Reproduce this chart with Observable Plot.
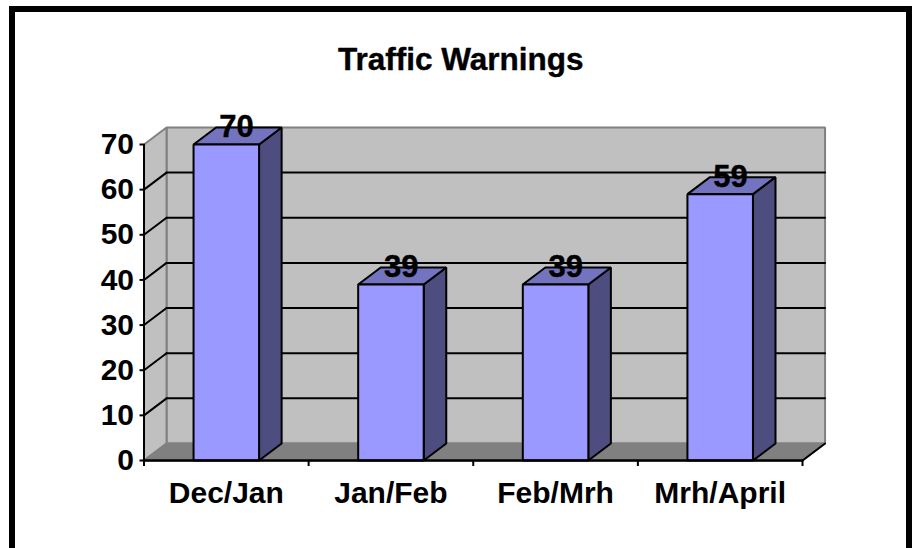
<!DOCTYPE html>
<html><head><meta charset="utf-8">
<script src="https://cdn.jsdelivr.net/npm/d3@7"></script>
<script src="https://cdn.jsdelivr.net/npm/@observablehq/plot@0.6"></script>
<style>
html,body{margin:0;padding:0;background:#fff;overflow:hidden;width:918px;height:548px}
#chart{position:absolute;left:0;top:0}
#chart svg{display:block;background:transparent}
#border{position:absolute;left:9px;top:6px;width:891px;height:600px;border:6px solid #000}
</style></head><body>
<div id="border"></div><div id="chart"></div>
<script>
const titleText = "Traffic Warnings";
const categories = ["Dec/Jan","Jan/Feb","Feb/Mrh","Mrh/April"];
const values = [70,39,39,59];
const yTicks = [0,10,20,30,40,50,60,70];
const gridValues = [10,20,30,40,50,60];

// oblique projection depth, in scale units
const dx = 0.137, dy = 3.77, halfBar = 0.199, yMax = 70, nCat = categories.length;
const poly = (pts, fill, stroke, strokeWidth=2) => Plot.line(pts, {
  x:"0", y:"1", curve:"linear-closed", fill, stroke, strokeWidth, strokeLinejoin:"miter"
});
const seg = (a, b, stroke, strokeWidth=2) => Plot.line([a,b], {x:"0", y:"1", stroke, strokeWidth});
const heavy = {stroke:"#000", strokeWidth:0.4};

const marks = [
  // back wall, side wall, floor
  poly([[dx,dy],[nCat+dx,dy],[nCat+dx,yMax+dy],[dx,yMax+dy]], "#c0c0c0", "#808080"),
  poly([[0,0],[dx,dy],[dx,yMax+dy],[0,yMax]], "#c0c0c0", "#808080"),
  poly([[0,0],[nCat,0],[nCat+dx,dy],[dx,dy]], "#808080", "#808080"),
  // gridlines
  ...gridValues.flatMap(v => [
    seg([0,v],[dx,v+dy],"#000"),
    seg([dx,v+dy],[nCat+dx,v+dy],"#000")
  ]),
  seg([nCat,0],[nCat+dx,dy],"#000"),
  // bars
  ...values.flatMap((v,i) => {
    const l = i+0.5-halfBar, r = i+0.5+halfBar;
    return [
      poly([[r,0],[r+dx,dy],[r+dx,v+dy],[r,v]], "#4d4d80", "#000"),
      poly([[l,v],[r,v],[r+dx,v+dy],[l+dx,v+dy]], "#7373bf", "#000"),
      poly([[l,0],[r,0],[r,v],[l,v]], "#9999ff", "#000")
    ];
  }),
  // value labels
  Plot.text(values, {x:(d,i)=>i+0.5+dx/2, y:d=>d+dy, dx:-1, text:d=>String(d), fontSize:31, fontWeight:"bold", fill:"#000", lineAnchor:"middle", ...heavy}),
  // front axes
  seg([0,0],[nCat,0],"#000",2.5),
  seg([0,0],[0,yMax],"#000",2),
  Plot.axisY({ticks:yTicks, tickSize:4, tickPadding:6, label:null, fontSize:30, fontWeight:"bold", stroke:"#000", strokeWidth:2, fill:"#000"}),
  Plot.axisX({ticks:d3.range(nCat+1), tickSize:6, tickFormat:()=>"", label:null, stroke:"#000", strokeWidth:2}),
  Plot.axisX({ticks:categories.map((_,i)=>i+0.5), tickSize:0, tickPadding:21, tickFormat:d=>categories[d-0.5], label:null, fontSize:30, fontWeight:"bold", fill:"#000"}),
  // title
  Plot.text([titleText], {x:nCat/2, dx:-12.5, frameAnchor:"top", dy:-85, fontSize:31.5, fontWeight:"bold", fill:"#000", lineAnchor:"middle", ...heavy})
];

const fig = Plot.plot({
  width:918, height:548,
  marginLeft:143.5, marginRight:116, marginTop:144, marginBottom:88,
  style:{fontFamily:"'Liberation Sans',Arial,sans-serif", background:"transparent", color:"#000"},
  x:{domain:[0,nCat]},
  y:{domain:[0,yMax]},
  marks
});
document.getElementById("chart").appendChild(fig);
</script></body></html>
